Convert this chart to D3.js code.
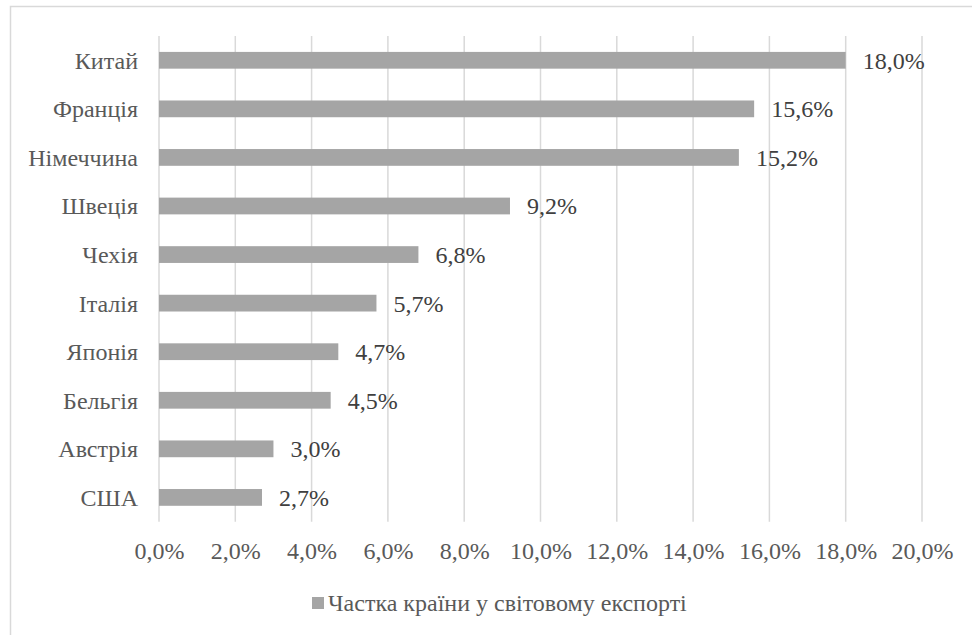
<!DOCTYPE html>
<html><head><meta charset="utf-8">
<script src="https://cdn.jsdelivr.net/npm/d3@7"></script>
<style>body{margin:0;background:#fff}svg{display:block;font-family:"Liberation Serif"}</style>
</head><body>
<svg id="c" width="972" height="635"></svg>
<script>
const categories = ["Китай","Франція","Німеччина","Швеція","Чехія","Італія","Японія","Бельгія","Австрія","США"];
const values = [18.0,15.6,15.2,9.2,6.8,5.7,4.7,4.5,3.0,2.7];
const xTicks = [0,2,4,6,8,10,12,14,16,18,20];
const seriesName = "Частка країни у світовому експорті";

const svg = d3.select("#c");
const FONT = "Liberation Serif";
const FS = 24;
const m = {left:159, right:922, top:36, bottom:521.7};
const fmt = v => v.toFixed(1).replace(".", ",") + "%";

svg.append("rect").attr("x",10.5).attr("y",6.5).attr("width",1000).attr("height",700)
  .attr("fill","none").attr("stroke","#d9d9d9").attr("stroke-width",1.5);

const x = d3.scaleLinear().domain([0,20]).range([m.left,m.right]);
const y = d3.scaleBand().domain(categories).range([m.top,m.bottom]).paddingInner(0.655).paddingOuter(0.3275);

const g = svg.append("g");
g.selectAll("line.grid").data(xTicks).join("line").attr("class","grid")
  .attr("x1",d=>x(d)).attr("x2",d=>x(d)).attr("y1",m.top).attr("y2",m.bottom)
  .attr("stroke","#d9d9d9").attr("stroke-width",1.5);

g.selectAll("rect.bar").data(values).join("rect").attr("class","bar")
  .attr("x",x(0)).attr("y",(d,i)=>y(categories[i]))
  .attr("width",d=>x(d)-x(0)).attr("height",y.bandwidth()).attr("fill","#a5a5a5");

g.selectAll("text.val").data(values).join("text").attr("class","val")
  .attr("x",d=>x(d)+17).attr("y",(d,i)=>y(categories[i])+y.bandwidth()/2)
  .attr("dy","0.35em").attr("font-family",FONT).style("font-family",FONT)
  .attr("font-size",FS).attr("fill","#404040")
  .text(fmt);

const yAxis = d3.axisLeft(y).tickSize(0).tickPadding(21);
const ya = svg.append("g").attr("transform",`translate(${m.left},0)`).call(yAxis);
ya.attr("font-family",FONT).attr("font-size",FS);
ya.select(".domain").remove();
ya.selectAll("text").attr("font-family",FONT).style("font-family",FONT)
  .attr("fill","#595959").attr("dy","0.35em");

const xAxis = d3.axisBottom(x).tickValues(xTicks).tickSize(0).tickPadding(20).tickFormat(fmt);
const xa = svg.append("g").attr("transform",`translate(0,${m.bottom})`).call(xAxis);
xa.attr("font-family",FONT).attr("font-size",FS);
xa.select(".domain").remove();
xa.selectAll("text").attr("font-family",FONT).style("font-family",FONT).attr("fill","#595959");

const lg = svg.append("g");
lg.append("rect").attr("x",312).attr("y",597).attr("width",12).attr("height",12).attr("fill","#a5a5a5");
lg.append("text").attr("x",328).attr("y",603).attr("dy","0.35em")
  .attr("font-family",FONT).style("font-family",FONT)
  .attr("font-size",FS).attr("fill","#595959").text(seriesName);
</script>
</body></html>
